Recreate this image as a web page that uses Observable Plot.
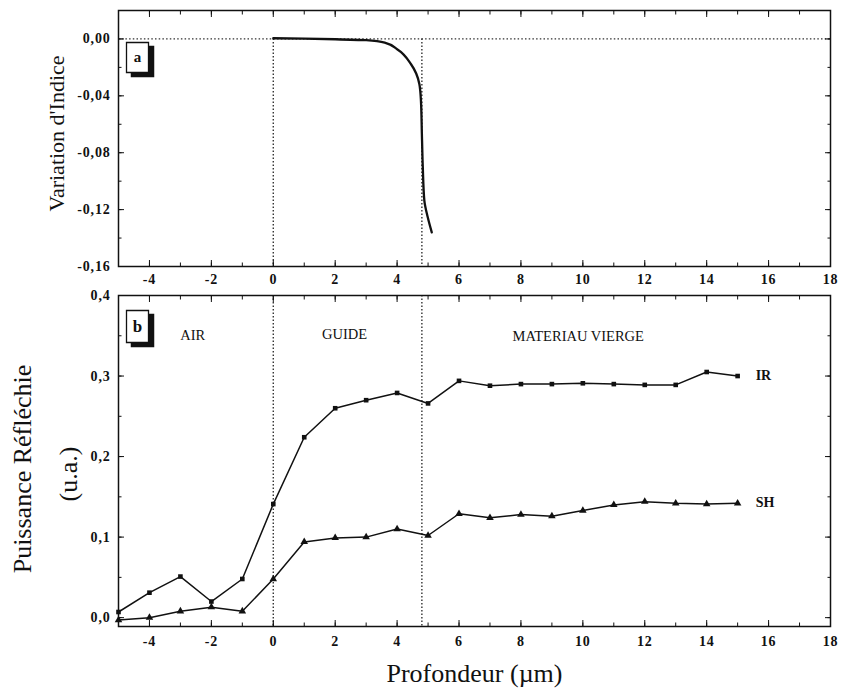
<!DOCTYPE html>
<html><head><meta charset="utf-8">
<script src="https://cdn.jsdelivr.net/npm/d3@7"></script>
<script src="https://cdn.jsdelivr.net/npm/@observablehq/plot@0.6"></script>
<style>
body{margin:0;background:#fff;}
#chart{position:relative;width:841px;height:696px;background:#fff;}
#chart svg{display:block;position:absolute;left:0;font-family:"Liberation Serif","Times New Roman",serif;background:transparent;}
#chart g[aria-label$="tick label"]{font-family:"Liberation Serif",serif;font-size:14px;font-weight:bold;letter-spacing:0.8px;}
</style></head><body><div id="chart"></div>
<script>
// ---- data ----
const depth = [-5,-4,-3,-2,-1,0,1,2,3,4,5,6,7,8,9,10,11,12,13,14,15];
const irValues = [0.007,0.031,0.051,0.020,0.048,0.141,0.224,0.260,0.270,0.279,0.266,0.294,0.288,0.290,0.290,0.291,0.290,0.289,0.289,0.305,0.300];
const shValues = [-0.003,0.000,0.008,0.013,0.008,0.048,0.094,0.099,0.100,0.110,0.102,0.129,0.124,0.128,0.126,0.133,0.140,0.144,0.142,0.141,0.142];
const indexDepth = [0.0,1.0,2.0,3.0,3.6,4.0,4.45,4.72,4.77,4.80,4.83,4.88,4.99,5.12];
const indexValues = [0.0005,0.0002,-0.0002,-0.0009,-0.0026,-0.0072,-0.0178,-0.0318,-0.0435,-0.0667,-0.0903,-0.1137,-0.1254,-0.136];
const boundaries = [0, 4.8];
const regionNames = ["AIR","GUIDE","MATERIAU VIERGE"];
const regionX = [-2.6, 2.3, 9.85];
const regionY = [0.351, 0.352, 0.349];
const seriesNames = ["IR","SH"];
const xTicks = [-4,-2,0,2,4,6,8,10,12,14,16,18];
const xMinor = d3.range(-5, 19, 1);
const yTicksA = [0,-0.04,-0.08,-0.12,-0.16];
const yMinorA = [0.02,0,-0.02,-0.04,-0.06,-0.08,-0.10,-0.12,-0.14,-0.16];
const yTicksB = [0,0.1,0.2,0.3,0.4];
const yMinorB = [0,0.05,0.1,0.15,0.2,0.25,0.3,0.35,0.4];
const panelLetters = ["a","b"];
const titleA = "Variation d'Indice";
const titleB1 = "Puissance Réfléchie";
const titleB2 = "(u.a.)";
const titleX = "Profondeur (µm)";

const locale = d3.formatLocale({decimal:",", thousands:".", grouping:[3], currency:["",""], minus:"-"});
const fmt2 = locale.format(".2f");
const fmt1 = locale.format(".1f");

const FONT = "Liberation Serif";
const W = 841;
const ML = 118, MR = 11;
const TICKFONT = {fontSize:14, fontWeight:"bold", fontFamily:FONT, fill:"#111"};

function boxSymbol(w, h) {
  return {draw(ctx) { ctx.rect(-w/2, -h/2, w, h); ctx.closePath(); }};
}
function labelBox(letter, dx, dy, w, h, fs) {
  return [
    Plot.dot([letter], {frameAnchor:"top-left", dx:dx+5, dy:dy+4, symbol:boxSymbol(w,h), fill:"#111", stroke:"#111", r:1}),
    Plot.dot([letter], {frameAnchor:"top-left", dx:dx, dy:dy, symbol:boxSymbol(w,h), fill:"#fff", stroke:"#111", strokeWidth:1.3, r:1}),
    Plot.text([letter], {text:d=>d, frameAnchor:"top-left", dx:dx, dy:dy, textAnchor:"middle", lineAnchor:"middle", fontSize:fs, fontWeight:"bold", fontFamily:FONT, fill:"#111"})
  ];
}
// tick-only axes use fill:"none" so no text is drawn
function axesX(padding) {
  return [
    Plot.axisX(xTicks, {anchor:"bottom", tickSize:-6, tickPadding:padding, tickFormat:d=>String(d), label:null, ...TICKFONT, stroke:"#111"}),
    Plot.axisX(xMinor, {anchor:"bottom", tickSize:-3.5, fill:"none", label:null, stroke:"#111"}),
    Plot.axisX(xTicks, {anchor:"top", tickSize:-6, fill:"none", label:null, stroke:"#111"}),
    Plot.axisX(xMinor, {anchor:"top", tickSize:-3.5, fill:"none", label:null, stroke:"#111"})
  ];
}
function axesY(major, minor, f) {
  return [
    Plot.axisY(major, {anchor:"left", tickSize:-6, tickPadding:14, tickFormat:f, label:null, ...TICKFONT, stroke:"#111"}),
    Plot.axisY(minor, {anchor:"left", tickSize:-3.5, fill:"none", label:null, stroke:"#111"}),
    Plot.axisY(major, {anchor:"right", tickSize:-6, fill:"none", label:null, stroke:"#111"}),
    Plot.axisY(minor, {anchor:"right", tickSize:-3.5, fill:"none", label:null, stroke:"#111"})
  ];
}

const indexData = indexDepth.map((x,i)=>({x, y:indexValues[i]}));

const topPanel = Plot.plot({
  width: W, height: 290,
  marginLeft: ML, marginRight: MR, marginTop: 10, marginBottom: 24,
  x: {domain:[-5,18]},
  y: {domain:[-0.16,0.02]},
  style: {fontFamily: FONT, background:"transparent"},
  marks: [
    Plot.ruleY([0], {stroke:"#333", strokeWidth:1.2, strokeDasharray:"1.5,2.2"}),
    Plot.ruleX(boundaries, {y1:0, y2:-0.16, stroke:"#333", strokeWidth:1.4, strokeDasharray:"1.5,2"}),
    Plot.line(indexData, {x:"x", y:"y", curve:"monotone-y", stroke:"#111", strokeWidth:2.3}),
    ...labelBox(panelLetters[0], 19, 47, 22, 30, 15),
    ...axesX(14),
    ...axesY(yTicksA, yMinorA, fmt2),
    Plot.text([titleA], {text:d=>d, frameAnchor:"left", dx:-62, dy:-5, rotate:-90, textAnchor:"middle", fontSize:22, fontFamily:FONT, fill:"#111"}),
    Plot.frame({stroke:"#111", strokeWidth:1.5})
  ]
});

const irData = depth.map((x,i)=>({x, y:irValues[i], s:seriesNames[0]}));
const shData = depth.map((x,i)=>({x, y:shValues[i], s:seriesNames[1]}));
const lastPts = [irData[irData.length-1], shData[shData.length-1]];
const regionData = regionNames.map((t,i)=>({t, x:regionX[i], y:regionY[i]}));

const bottomPanel = Plot.plot({
  width: W, height: 416,
  marginLeft: ML, marginRight: MR, marginTop: 15, marginBottom: 70,
  x: {domain:[-5,18]},
  y: {domain:[-0.011,0.4]},
  style: {fontFamily: FONT, background:"transparent"},
  marks: [
    Plot.ruleX(boundaries, {stroke:"#333", strokeWidth:1.4, strokeDasharray:"1.5,2"}),
    Plot.line(irData, {x:"x", y:"y", stroke:"#111", strokeWidth:1.5}),
    Plot.line(shData, {x:"x", y:"y", stroke:"#111", strokeWidth:1.5}),
    Plot.dot(irData, {x:"x", y:"y", symbol:"square", r:2.6, fill:"#111"}),
    Plot.dot(shData, {x:"x", y:"y", symbol:"triangle", r:2.8, fill:"#111"}),
    Plot.text(lastPts, {x:"x", y:"y", text:"s", dx:18, dy:-1, textAnchor:"start", fontSize:14, fontWeight:"bold", fontFamily:FONT, fill:"#111"}),
    Plot.text(regionData, {x:"x", y:"y", text:"t", fontSize:14.5, fontFamily:FONT, fill:"#111", letterSpacing:"-0.3px"}),
    ...labelBox(panelLetters[1], 19, 31, 22, 32, 17),
    ...axesX(16),
    ...axesY(yTicksB, yMinorB, fmt1),
    Plot.text([titleB1], {text:d=>d, frameAnchor:"left", dx:-96, dy:8, rotate:-90, textAnchor:"middle", fontSize:26, fontFamily:FONT, fill:"#111"}),
    Plot.text([titleB2], {text:d=>d, frameAnchor:"left", dx:-50, dy:13, rotate:-90, textAnchor:"middle", fontSize:26, fontFamily:FONT, fill:"#111"}),
    Plot.text([titleX], {text:d=>d, frameAnchor:"bottom", dy:55, textAnchor:"middle", fontSize:26, fontFamily:FONT, fill:"#111"}),
    Plot.frame({stroke:"#111", strokeWidth:1.5})
  ]
});

topPanel.style.top = "0px";
bottomPanel.style.top = "280px";
document.getElementById("chart").append(topPanel, bottomPanel);
</script></body></html>
